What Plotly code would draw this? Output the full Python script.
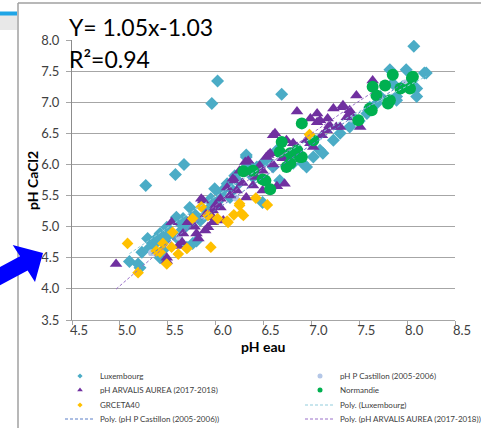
import numpy as np
import plotly.graph_objects as go

# ---------------- data ----------------
lux_x = [8.07, 6.02, 5.96, 6.69, 8.18, 5.67, 5.58, 5.27,
         5.10, 5.19, 5.23, 5.29, 5.38, 5.21, 5.42, 5.42, 5.49, 5.52, 5.59, 5.59,
         5.63, 5.70, 5.70, 5.73, 5.76, 5.80, 5.84, 5.87, 5.91, 5.97, 5.99, 6.05,
         6.12, 6.15, 6.20, 6.25, 6.32, 6.32, 6.39, 6.43, 6.49, 6.49, 6.60, 6.64,
         6.67, 6.74, 6.81, 6.91, 6.95, 7.02, 7.09, 7.12, 7.23, 7.40, 7.58, 7.61,
         7.72, 7.89, 7.89, 7.85, 7.82, 7.99, 8.10, 8.10, 8.20,
         5.35, 5.47, 5.65, 5.78, 6.02, 6.10, 6.28, 6.55, 6.85, 7.00, 7.30, 7.50,
         7.68, 7.95, 8.05, 7.45, 6.18, 5.95, 6.35, 5.66, 5.31, 5.45]
lux_y = [7.90, 7.34, 6.98, 7.13, 7.47, 6.00, 5.84, 5.66,
         4.44, 4.40, 4.59, 4.81, 4.81, 4.34, 4.50, 4.89, 4.99, 4.89, 5.15, 4.83,
         5.05, 5.02, 4.67, 5.31, 4.73, 4.77, 5.10, 5.15, 5.26, 5.37, 5.61, 5.53,
         5.69, 5.47, 5.82, 5.71, 6.12, 6.15, 5.80, 5.96, 6.02, 5.39, 5.96, 6.23,
         5.74, 6.12, 6.02, 6.02, 5.96, 6.12, 6.23, 6.18, 6.39, 6.60, 6.82, 6.92,
         7.09, 7.09, 7.03, 7.30, 7.52, 7.52, 7.22, 7.09, 7.47,
         4.70, 4.78, 4.95, 5.20, 5.40, 5.62, 5.90, 6.05, 6.25, 6.35, 6.50, 6.70,
         6.98, 7.25, 7.35, 6.72, 5.58, 5.45, 6.00, 5.13, 4.66, 4.62]

cast_x = [5.33, 5.62, 5.88, 6.21, 6.47, 6.83, 7.08, 7.42, 7.71, 7.98]
cast_y = [4.58, 4.83, 5.17, 5.46, 5.82, 6.07, 6.44, 6.73, 7.08, 7.31]

arv_x = [4.96, 5.49, 5.49, 5.54, 5.61, 5.66, 5.71, 5.73, 5.80, 5.82, 5.85, 5.87,
         5.89, 5.92, 5.97, 5.97, 5.97, 6.05, 6.05, 6.08, 6.12, 6.18, 6.20, 6.22,
         6.25, 6.31, 6.32, 6.34, 6.36, 6.39, 6.46, 6.49, 6.49, 6.53, 6.55, 6.57,
         6.60, 6.62, 6.64, 6.72, 6.74, 6.81, 6.85, 6.85, 6.95, 6.99, 6.99, 7.02,
         7.06, 7.06, 7.09, 7.11, 7.16, 7.17, 7.19, 7.23, 7.26, 7.30, 7.33, 7.33,
         7.37, 7.40, 7.40, 7.47, 7.51, 7.64,
         5.65, 5.78, 5.90, 6.00, 6.15, 6.28, 6.42, 6.60, 6.70]
arv_y = [4.40, 4.45, 4.50, 5.07, 4.69, 4.89, 5.07, 5.10, 4.89, 4.81, 5.45, 5.42,
         4.94, 4.99, 5.15, 5.26, 5.07, 5.31, 5.45, 5.10, 5.63, 5.77, 5.74, 5.58,
         5.90, 6.04, 5.47, 6.06, 5.85, 5.66, 5.98, 5.58, 5.90, 6.12, 6.15, 6.18,
         6.47, 6.50, 5.65, 5.69, 6.39, 6.34, 6.85, 6.28, 6.39, 6.74, 6.34, 6.28,
         6.82, 6.68, 6.71, 6.47, 6.55, 6.74, 6.63, 6.90, 6.60, 6.60, 6.95, 6.92,
         6.76, 6.87, 6.82, 7.11, 6.60, 7.35,
         4.75, 5.00, 5.20, 5.35, 5.50, 5.70, 5.80, 6.00, 6.10]

norm_x = [6.29, 6.39, 6.49, 6.52, 6.57, 6.67, 6.69, 6.74, 6.78, 6.78, 6.85,
          6.88, 6.90, 6.90, 7.02, 7.49, 7.61, 7.63, 7.64, 7.68, 7.77, 7.80,
          7.82, 7.85, 7.93, 8.03, 8.05, 8.06]
norm_y = [5.89, 5.90, 5.76, 5.74, 5.60, 6.20, 6.36, 5.96, 6.18, 6.02, 6.23,
          6.12, 6.66, 6.12, 6.39, 6.71, 6.90, 6.87, 7.25, 7.11, 7.27, 6.98,
          7.03, 7.44, 7.22, 7.22, 7.39, 7.41]

grc_x = [5.08, 5.19, 5.38, 5.42, 5.45, 5.49, 5.54, 5.55, 5.61, 5.70, 5.76, 5.85,
         5.92, 5.95, 6.02, 6.12, 6.13, 6.19, 6.25, 6.25, 6.27, 6.29, 6.42, 6.54, 6.98]
grc_y = [4.73, 4.26, 4.61, 4.59, 4.73, 4.40, 4.67, 4.91, 4.56, 4.65, 5.13, 5.32,
         5.18, 4.67, 5.13, 5.09, 5.07, 5.19, 5.34, 5.37, 5.21, 5.18, 5.46, 5.35, 6.48]

series_names = ["Luxembourg", "pH P Castillon (2005-2006)", "pH ARVALIS AUREA (2017-2018)",
                "Normandie", "GRCETA40"]
trend_names = ["Poly. (Luxembourg)", "Poly. (pH P Castillon (2005-2006))",
               "Poly. (pH ARVALIS AUREA (2017-2018))"]
eq_text = "Y= 1.05x-1.03"
r2_text = "R²=0.94"
x_ticks = [4.5, 5.0, 5.5, 6.0, 6.5, 7.0, 7.5, 8.0, 8.5]
y_ticks = [3.5, 4.0, 4.5, 5.0, 5.5, 6.0, 6.5, 7.0, 7.5, 8.0]

# ---------------- styling ----------------
FONT = "Lato, Carlito, Calibri, sans-serif"
C_LUX, C_CAST, C_ARV, C_NORM, C_GRC = "#4BACC6", "#B4C7E7", "#7030A0", "#00B050", "#FFC000"

W, H = 481, 428
ML, MR, MT, MB = 72, 26, 40, 108
PW, PH = W - ML - MR, H - MT - MB


def px(xp):
    return (xp - ML) / PW


def py(yp):
    return (H - MB - yp) / PH


fig = go.Figure()

fig.add_trace(go.Scatter(x=lux_x, y=lux_y, mode="markers", name=series_names[0], showlegend=False,
                         marker=dict(symbol="diamond", size=10, color=C_LUX)))
fig.add_trace(go.Scatter(x=cast_x, y=cast_y, mode="markers", name=series_names[1], showlegend=False,
                         marker=dict(symbol="circle", size=7, color=C_CAST)))
fig.add_trace(go.Scatter(x=arv_x, y=arv_y, mode="markers", name=series_names[2], showlegend=False,
                         marker=dict(symbol="triangle-up", size=11, color=C_ARV)))
fig.add_trace(go.Scatter(x=norm_x, y=norm_y, mode="markers", name=series_names[3], showlegend=False,
                         marker=dict(symbol="circle", size=12, color=C_NORM)))
fig.add_trace(go.Scatter(x=grc_x, y=grc_y, mode="markers", name=series_names[4], showlegend=False,
                         marker=dict(symbol="diamond", size=9, color=C_GRC)))


def poly_line(xs, ys):
    c = np.polyfit(xs, ys, 2)
    xx = np.linspace(min(xs), max(xs), 60)
    return xx, np.polyval(c, xx)


# legend slots (pixel positions of entries) -> one small legend each
slots = [(60, 376), (300, 376), (60, 390), (300, 390), (60, 405), (300, 405), (60, 419), (300, 419)]
legend_layouts = {}
for i, (lx, ly) in enumerate(slots):
    key = "legend" if i == 0 else f"legend{i + 1}"
    legend_layouts[key] = dict(x=px(lx), y=py(ly), xanchor="left", yanchor="middle",
                               bgcolor="rgba(0,0,0,0)", borderwidth=0,
                               font=dict(family=FONT, size=8, color="#404040"))


def lref(i):
    return "legend" if i == 0 else f"legend{i + 1}"


# marker legend entries
leg_marks = [("diamond", C_LUX, 4), ("circle", C_CAST, 5), ("triangle-up", C_ARV, 5),
             ("circle", C_NORM, 5), ("diamond", C_GRC, 4)]
for i, (sym, col, sz) in enumerate(leg_marks):
    fig.add_trace(go.Scatter(x=[None], y=[None], mode="markers", name=series_names[i],
                             legend=lref(i), marker=dict(symbol=sym, size=sz, color=col)))

# trendlines
tx, ty = poly_line(lux_x, lux_y)
fig.add_trace(go.Scatter(x=tx, y=ty, mode="lines", name=trend_names[0], legend=lref(5),
                         line=dict(color="#92CDDC", width=1, dash="3px,2px")))
tx, ty = poly_line(cast_x, cast_y)
fig.add_trace(go.Scatter(x=tx, y=ty, mode="lines", name=trend_names[1], legend=lref(6),
                         line=dict(color="#5B7FC7", width=1, dash="3px,2px")))
tx, ty = poly_line(arv_x, arv_y)
fig.add_trace(go.Scatter(x=tx, y=ty, mode="lines", name=trend_names[2], legend=lref(7),
                         line=dict(color="#9A70C8", width=1, dash="3px,2px")))

annotations = [
    dict(text=eq_text, x=px(67), y=py(27), xref="paper", yref="paper", xanchor="left",
         yanchor="middle", showarrow=False, font=dict(family=FONT, size=23, color="#000000")),
    dict(text=r2_text, x=px(67), y=py(59), xref="paper", yref="paper", xanchor="left",
         yanchor="middle", showarrow=False, font=dict(family=FONT, size=23, color="#000000")),
    dict(text="<b>pH eau</b>", x=px(263), y=py(346), xref="paper", yref="paper",
         xanchor="center", yanchor="middle",
         showarrow=False, font=dict(family=FONT, size=14, color="#000000")),
    dict(text="<b>pH CaCl2</b>", x=px(32), y=py(181), xref="paper", yref="paper", textangle=-90,
         xanchor="center", yanchor="middle",
         showarrow=False, font=dict(family=FONT, size=14, color="#000000")),
]

# slide decorations: frame, top-left bar, blue arrow
def pt(x, y):
    return f"{px(x)},{py(y)}"


arrow = [(43, 253), (35, 282), (27.6, 270.4), (-7.6, 289.3), (-15.2, 275.1), (20.0, 256.2), (12.7, 245)]
arrow_path = "M " + " L ".join(pt(a, b) for a, b in arrow) + " Z"
shapes = [
    dict(type="line", xref="paper", yref="paper", x0=px(18), x1=px(481), y0=py(3), y1=py(3),
         line=dict(color="#A0A0A0", width=1.5)),
    dict(type="line", xref="paper", yref="paper", x0=px(18), x1=px(18), y0=py(3), y1=py(428),
         line=dict(color="#A0A0A0", width=1.5)),
    dict(type="rect", xref="paper", yref="paper", x0=px(0), x1=px(17), y0=py(15), y1=py(30),
         fillcolor="rgba(190,190,190,0.35)", line=dict(width=0)),
    dict(type="rect", xref="paper", yref="paper", x0=px(0), x1=px(17), y0=py(11.5), y1=py(15.5),
         fillcolor="#1FA5E6", line=dict(width=0)),
    dict(type="path", xref="paper", yref="paper", path=arrow_path, fillcolor="#0000FF",
         line=dict(width=0)),
]

fig.update_layout(
    width=W, height=H,
    margin=dict(l=ML, r=MR, t=MT, b=MB, autoexpand=False),
    paper_bgcolor="white", plot_bgcolor="white",
    font=dict(family=FONT, size=13, color="#404040"),
    annotations=annotations, shapes=shapes,
    **legend_layouts,
)
fig.update_xaxes(range=[4.5, 8.5], tickvals=x_ticks, ticktext=[f"{v:.1f}" for v in x_ticks],
                 showgrid=False, zeroline=False, showline=True, linecolor="#A6A6A6", linewidth=1,
                 ticks="outside", ticklen=4, tickcolor="#A6A6A6",
                 ticklabelstandoff=-6, ticklabelshift=7,
                 tickfont=dict(family=FONT, size=13, color="#404040"))
fig.update_yaxes(range=[3.5, 8.0], tickvals=y_ticks, ticktext=[f"{v:.1f}" for v in y_ticks],
                 showgrid=True, gridcolor="#A6A6A6", gridwidth=1, zeroline=False,
                 showline=True, linecolor="#8C8C8C", linewidth=1,
                 ticks="outside", ticklen=5, tickcolor="#A6A6A6", ticklabelstandoff=4,
                 tickfont=dict(family=FONT, size=13, color="#404040"))

fig.write_html("out.html", config={"displayModeBar": False},
               post_script="document.body.style.margin='0';"
                           "document.body.style.overflow='hidden';")
